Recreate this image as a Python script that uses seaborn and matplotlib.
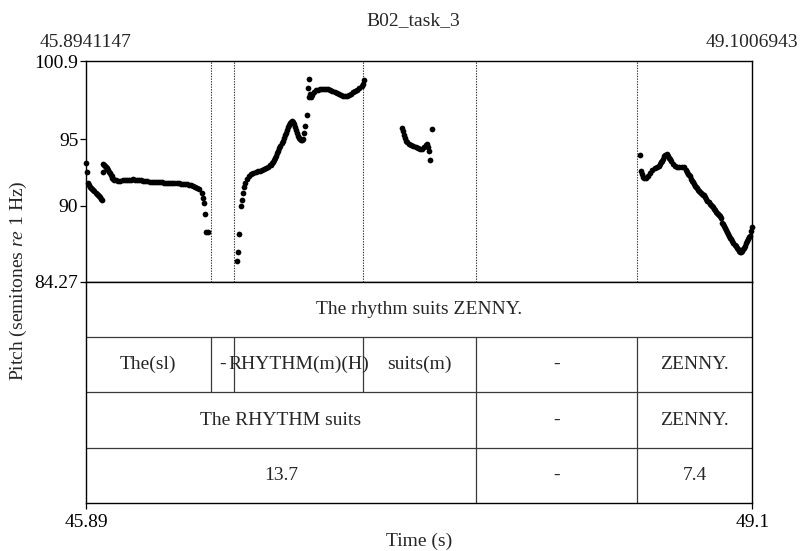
import matplotlib
matplotlib.use("Agg")
import matplotlib.pyplot as plt
import pandas as pd
import seaborn as sns

# Time window and pitch range (semitones re 1 Hz)
T_START = 45.8941147
T_END = 49.1006943
PITCH_MIN = 84.27
PITCH_MAX = 100.9

title = "B02_task_3"
ytick_values = [84.27, 90, 95, 100.9]
ytick_labels = ["84.27", "90", "95", "100.9"]
xtick_labels = ["45.89", "49.1"]

# Pitch track, one list pair per voiced stretch
seg_a_time = [45.896, 45.900, 45.905, 45.910, 45.915, 45.920, 45.925, 45.930,
              45.935, 45.940, 45.945, 45.950, 45.955, 45.960, 45.965, 45.969]
seg_a_pitch = [93.25, 92.57, 91.74, 91.52, 91.43, 91.35, 91.26, 91.17,
               91.08, 90.99, 90.90, 90.81, 90.72, 90.62, 90.53, 90.45]

seg_b_time = [45.974, 45.977, 45.981, 45.985, 45.989, 45.993, 45.997, 46.001,
              46.005, 46.009, 46.013, 46.017, 46.021, 46.025,
              46.03, 46.04, 46.05, 46.06, 46.07, 46.08, 46.09, 46.10, 46.11,
              46.12, 46.13, 46.14, 46.15, 46.16, 46.17, 46.18, 46.19, 46.20,
              46.21, 46.22, 46.23, 46.24, 46.25, 46.26, 46.27, 46.28, 46.29,
              46.30, 46.31, 46.32, 46.33, 46.34, 46.35, 46.36, 46.37, 46.38,
              46.39, 46.40, 46.41, 46.42, 46.43, 46.44,
              46.450, 46.455, 46.460, 46.465, 46.472, 46.480]
seg_b_pitch = [92.55, 93.15, 93.10, 93.00, 92.92, 92.85, 92.75, 92.66,
               92.55, 92.45, 92.33, 92.20, 92.08, 92.00,
               91.95, 91.90, 91.88, 91.88, 91.90, 91.92, 91.93, 91.95, 91.97,
               91.98, 91.97, 91.95, 91.93, 91.90, 91.88, 91.85, 91.83, 91.80,
               91.79, 91.78, 91.77, 91.76, 91.76, 91.75, 91.74, 91.73, 91.72,
               91.72, 91.71, 91.70, 91.68, 91.67, 91.66, 91.65, 91.63, 91.60,
               91.56, 91.52, 91.47, 91.41, 91.33, 91.22,
               90.95, 90.60, 90.22, 89.40, 88.02, 88.02]

seg_c_time = [46.621, 46.626, 46.632, 46.639, 46.645, 46.650, 46.655, 46.660,
              46.670, 46.680, 46.690, 46.700, 46.710, 46.720, 46.730, 46.740,
              46.750, 46.760, 46.770, 46.780, 46.785, 46.790, 46.795, 46.800,
              46.805, 46.810, 46.815, 46.820, 46.825, 46.830, 46.835, 46.840,
              46.845, 46.850, 46.855, 46.860, 46.865, 46.870, 46.875, 46.880,
              46.885, 46.890, 46.895, 46.900, 46.905, 46.910, 46.915, 46.920,
              46.925, 46.930, 46.935, 46.940, 46.945, 46.950, 46.957, 46.962,
              46.965, 46.968, 46.972, 46.975, 46.980, 46.990,
              47.00, 47.01, 47.02, 47.03, 47.04, 47.05, 47.06, 47.07, 47.08,
              47.09, 47.10, 47.11, 47.12, 47.13, 47.14, 47.15, 47.16, 47.17,
              47.18, 47.19, 47.20, 47.21, 47.22, 47.225, 47.23]
seg_c_pitch = [85.80, 86.48, 87.86, 89.99, 90.44, 90.99, 91.40, 91.70,
               92.00, 92.20, 92.36, 92.45, 92.53, 92.59, 92.64, 92.68,
               92.74, 92.80, 92.90, 93.03, 93.10, 93.18, 93.28, 93.41,
               93.57, 93.75, 93.95, 94.14, 94.33, 94.53, 94.72, 94.90,
               95.10, 95.30, 95.50, 95.70, 95.90, 96.10, 96.25, 96.33,
               96.35, 96.28, 96.12, 95.92, 95.70, 95.48, 95.28, 95.12,
               95.00, 94.92, 94.92, 95.05, 95.45, 96.00, 96.86, 98.90,
               98.15, 99.52, 98.45, 98.20, 98.35, 98.55,
               98.68, 98.74, 98.78, 98.80, 98.80, 98.78, 98.76, 98.72, 98.66,
               98.60, 98.52, 98.44, 98.37, 98.30, 98.23, 98.25, 98.32, 98.42,
               98.55, 98.66, 98.75, 98.86, 99.00, 99.15, 99.45]

seg_d_time = [47.415, 47.420, 47.425, 47.430, 47.435, 47.440, 47.450, 47.460,
              47.470, 47.480, 47.490, 47.500, 47.510, 47.520, 47.530, 47.535,
              47.540, 47.545, 47.550, 47.560]
seg_d_pitch = [95.88, 95.63, 95.35, 95.10, 94.90, 94.78, 94.66, 94.56,
               94.49, 94.40, 94.31, 94.26, 94.30, 94.42, 94.58, 94.62,
               94.45, 94.13, 93.43, 95.76]

seg_e_time = [48.562, 48.565, 48.570, 48.575, 48.580, 48.590, 48.600, 48.610,
              48.620, 48.630, 48.640, 48.650, 48.655, 48.660, 48.665, 48.670,
              48.675, 48.680, 48.690, 48.695, 48.700, 48.705, 48.710, 48.720,
              48.730, 48.740, 48.750, 48.760, 48.770, 48.780, 48.785, 48.790,
              48.795, 48.800, 48.805, 48.810, 48.815, 48.820, 48.825, 48.830,
              48.835, 48.840, 48.845, 48.850, 48.855, 48.860, 48.865, 48.870,
              48.875, 48.880, 48.885, 48.890, 48.895, 48.900, 48.905, 48.910,
              48.915, 48.920, 48.925, 48.930, 48.935, 48.940, 48.945, 48.950,
              48.955, 48.960, 48.965, 48.970, 48.975, 48.980, 48.985, 48.990,
              48.995, 49.000, 49.005, 49.010, 49.015, 49.020, 49.025, 49.030,
              49.035, 49.040, 49.045, 49.050, 49.055, 49.060, 49.065, 49.070,
              49.075, 49.080, 49.085, 49.090, 49.095, 49.100]
seg_e_pitch = [93.83, 92.62, 92.35, 92.15, 92.08, 92.06, 92.20, 92.45,
               92.65, 92.85, 92.95, 93.00, 93.15, 93.28, 93.40, 93.55,
               93.72, 93.84, 93.87, 93.75, 93.60, 93.48, 93.35, 93.15,
               93.00, 92.88, 92.90, 92.92, 92.88, 92.65, 92.50, 92.40,
               92.30, 92.20, 92.00, 91.87, 91.75, 91.62, 91.50, 91.40,
               91.30, 91.20, 91.12, 91.03, 90.95, 90.85, 90.80, 90.77,
               90.62, 90.50, 90.38, 90.25, 90.15, 90.05, 89.97, 89.87,
               89.75, 89.65, 89.55, 89.45, 89.37, 89.30, 89.25, 89.05,
               88.72, 88.60, 88.45, 88.30, 88.15, 88.00, 87.88, 87.75,
               87.60, 87.45, 87.32, 87.18, 87.05, 86.95, 86.82, 86.70,
               86.58, 86.50, 86.48, 86.58, 86.70, 86.78, 86.95, 87.20,
               87.35, 87.50, 87.62, 87.72, 88.10, 88.36]

# TextGrid tiers
sentence_labels = ["The rhythm suits ZENNY."]
word_bounds = [46.494, 46.604, 47.229, 47.771, 48.544]
word_labels = ["The(sl)", "-", "RHYTHM(m)(H)", "suits(m)", "-", "ZENNY."]
phrase_bounds = [47.771, 48.544]
phrase_labels = ["The RHYTHM suits", "-", "ZENNY."]
rate_labels = ["13.7", "-", "7.4"]

sns.set_style("white")
plt.rcParams["font.family"] = ["Liberation Serif", "DejaVu Serif"]
plt.rcParams["mathtext.fontset"] = "custom"
plt.rcParams["mathtext.rm"] = "Liberation Serif"
plt.rcParams["mathtext.it"] = "Liberation Serif:italic"
FS = 14

pitch = pd.concat([
    pd.DataFrame({"time": t, "pitch": p})
    for t, p in [(seg_a_time, seg_a_pitch), (seg_b_time, seg_b_pitch),
                 (seg_c_time, seg_c_pitch), (seg_d_time, seg_d_pitch),
                 (seg_e_time, seg_e_pitch)]
], ignore_index=True)

fig = plt.figure(figsize=(8, 5.51), dpi=100)
left, width = 0.1075, 0.8329
ax_p = fig.add_axes([left, 0.48875, width, 0.40054])
ax_t = fig.add_axes([left, 0.08657, width, 0.40218])

# --- pitch panel ---
for b in word_bounds:
    ax_p.axvline(b, color="#333333", lw=0.8, ls=(0, (1.2, 1.2)), zorder=1)
sns.scatterplot(data=pitch, x="time", y="pitch", ax=ax_p, color="black",
                s=17, linewidth=0, legend=False, zorder=3, clip_on=False)
ax_p.set_xlim(T_START, T_END)
ax_p.set_ylim(PITCH_MIN, PITCH_MAX)
ax_p.set_xticks([])
ax_p.set_yticks(ytick_values, labels=ytick_labels)
ax_p.tick_params(axis="y", which="both", left=True, direction="out",
                 length=4.5, width=0.9, pad=1, labelsize=FS, colors="black")
ax_p.set_xlabel("")
ax_p.set_ylabel("")
for sp in ax_p.spines.values():
    sp.set_visible(True)
    sp.set_color("black")
    sp.set_linewidth(1.0)
for t in (T_START, T_END):
    ax_p.annotate(f"{t:.7f}", xy=(t, 1), xycoords=("data", "axes fraction"),
                  xytext=(0, 13), textcoords="offset points",
                  ha="center", va="center", fontsize=FS)

# --- tier panel ---
ax_t.set_xlim(T_START, T_END)
ax_t.set_ylim(4, 0)
line_kw = dict(color="#3a3a3a", lw=0.9)
for y in (1, 2, 3):
    ax_t.axhline(y, **line_kw)


def draw_tier(row, bounds, labels):
    edges = [T_START] + list(bounds) + [T_END]
    for b in bounds:
        ax_t.plot([b, b], [row, row + 1], **line_kw)
    for (a, c), lab in zip(zip(edges[:-1], edges[1:]), labels):
        ax_t.text((a + c) / 2, row + 0.5, lab, ha="center", va="center",
                  fontsize=FS)


draw_tier(0, [], sentence_labels)
draw_tier(1, word_bounds, word_labels)
draw_tier(2, phrase_bounds, phrase_labels)
draw_tier(3, phrase_bounds, rate_labels)

ax_t.set_yticks([])
ax_t.set_xticks([T_START, T_END], labels=xtick_labels)
ax_t.tick_params(axis="x", which="both", bottom=True, direction="out",
                 length=4.5, width=0.9, pad=3, labelsize=FS, colors="black")
for sp in ax_t.spines.values():
    sp.set_visible(True)
    sp.set_color("black")
    sp.set_linewidth(1.0)

fig.text(413 / 800, 1 - 21 / 551, title, ha="center", va="center", fontsize=FS)
fig.text(419 / 800, 1 - 541 / 551, "Time (s)", ha="center", va="center",
         fontsize=FS)
fig.text(18 / 800, 1 - 281 / 551, r"Pitch (semitones $\mathit{re}$ 1 Hz)",
         ha="center", va="center", rotation=90, fontsize=FS)

fig.savefig("out.png", dpi=100)
